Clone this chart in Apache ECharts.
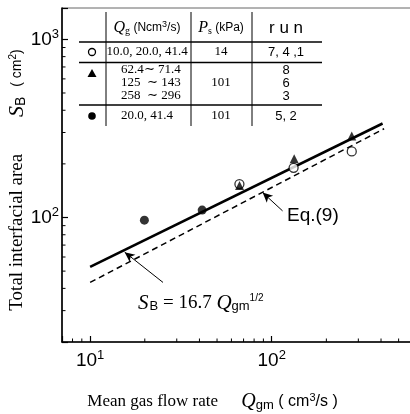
<!DOCTYPE html>
<html><head><meta charset="utf-8">
<script src="https://cdn.jsdelivr.net/npm/echarts@6/dist/echarts.min.js"></script>
<style>html,body{margin:0;padding:0;background:#fff}#c{width:410px;height:414px}</style>
</head><body><div id="c"></div>
<script>
// ---- data ----
const xRange = [7, 600];      // Q_gm axis extent (cm3/s)
const yRange = [20, 1500];    // S_B axis extent (cm2)
const xMinorTicks = [8, 9, 20, 30, 40, 50, 60, 70, 80, 90, 200, 300, 400, 500];
const yMinorTicks = [30, 40, 50, 60, 70, 80, 90, 200, 300, 400, 500, 600, 700, 800, 900];

// open circles: Ps = 14 kPa (runs 7,4,1)
const openQ = [66.4, 132, 276];
const openS = [154, 190, 235];
// triangles: Ps = 101 kPa (runs 8,6,3)
const triQ = [66.5, 133, 276];
const triS = [151, 214, 287];
// filled circles: Ps = 101 kPa (runs 5,2)
const dotQ = [19.9, 41.4];
const dotS = [96.6, 110];
// S_B = 16.7 Qgm^(1/2)  (solid line end points)
const fitQ = [10, 408];
const fitS = [52.8, 337];
// Eq.(9) (dashed line end points)
const eqQ = [10, 416];
const eqS = [43.2, 315];

// legend table texts
const qgTexts = ['10.0, 20.0, 41.4', '62.4\u223C 71.4', '125  \u223C 143', '258  \u223C 296', '20.0, 41.4'];
const psTexts = ['14', '101', '101'];
const runTexts = ['7, 4 ,1', '8', '6', '3', '5, 2'];

// ---- build ----
const SERIF = 'Liberation Serif';
const SANS = 'Liberation Sans';
const zip = (a, b) => a.map((v, i) => [v, b[i]]);

function powLabel(v) {
  const e = Math.log10(v);
  const r = Math.round(e);
  if (Math.abs(e - r) < 1e-6) return '{b|10}{s|' + r + '}';
  return '';
}
const tickRich = {
  b: {fontSize: 19, fontFamily: SANS, color: '#000'},
  s: {fontSize: 13, fontFamily: SANS, color: '#000', padding: [0, 0, 10, 0]}
};

const chart = echarts.init(document.getElementById('c'), null, {renderer: 'canvas'});

const txt = (x, y, text, extra) => ({
  type: 'text', x: x, y: y, silent: true,
  style: Object.assign({text: text, fill: '#000', align: 'center', verticalAlign: 'middle',
    font: '13px ' + SERIF}, extra || {})
});
const hline = (x1, x2, y, w) => ({type: 'line', silent: true, shape: {x1: x1, y1: y, x2: x2, y2: y}, style: {stroke: '#000', lineWidth: w || 1.3}});
const vline = (x, y1, y2, w) => ({type: 'line', silent: true, shape: {x1: x, y1: y1, x2: x, y2: y2}, style: {stroke: '#000', lineWidth: w || 1}});

const graphics = [
  hline(79, 322, 42, 1.6), hline(79, 322, 62.5, 1.3), hline(79, 322, 105, 1.3),
  vline(106, 12, 126), vline(191, 12, 126), vline(252, 12, 126),
  // header
  txt(147, 28, '{q|Q}{qs|g}{u| (Ncm}{us|3}{u|/s)}', {rich: {
    q: {font: 'italic 16px ' + SERIF}, qs: {font: '10px ' + SERIF, padding: [6, 0, 0, 0]},
    u: {font: '12px ' + SANS}, us: {font: '9px ' + SANS, padding: [0, 0, 6, 0]}}}),
  txt(221, 28, '{q|P}{qs|s}{u| (kPa)}', {rich: {
    q: {font: 'italic 16px ' + SERIF}, qs: {font: '10px ' + SERIF, padding: [6, 0, 0, 0]},
    u: {font: '12px ' + SANS}}}),
  txt(286, 28, 'r u n', {font: '17px ' + SANS}),
  // row 1
  txt(147, 52, qgTexts[0]), txt(221, 52, psTexts[0]), txt(286, 52, runTexts[0], {font: '13px ' + SANS}),
  // row 2
  txt(121, 70, qgTexts[1], {align: 'left'}), txt(121, 83, qgTexts[2], {align: 'left'}), txt(121, 96, qgTexts[3], {align: 'left'}),
  txt(221, 83, psTexts[1]),
  txt(286, 70, runTexts[1], {font: '13px ' + SANS}), txt(286, 83, runTexts[2], {font: '13px ' + SANS}), txt(286, 96, runTexts[3], {font: '13px ' + SANS}),
  // row 3
  txt(147, 116, qgTexts[4]), txt(221, 116, psTexts[2]), txt(286, 116, runTexts[4], {font: '13px ' + SANS}),
  // markers
  {type: 'circle', silent: true, shape: {cx: 92, cy: 52, r: 3.5}, style: {fill: '#fff', stroke: '#000', lineWidth: 1.3}},
  {type: 'polygon', silent: true, shape: {points: [[92, 69], [96.5, 77], [87.5, 77]]}, style: {fill: '#000'}},
  {type: 'circle', silent: true, shape: {cx: 92, cy: 116, r: 3.8}, style: {fill: '#000'}},
  // annotations
  txt(287, 216, 'Eq.(9)', {align: 'left', font: '19px ' + SANS}),
  txt(138, 303, '{S|S}{Bs|B}{t| = 16.7 }{Q|Q}{g|gm}{h|1/2}', {align: 'left', rich: {
    S: {font: 'italic 21px ' + SERIF}, Bs: {font: '13px ' + SANS, padding: [7, 0, 0, 1]},
    t: {font: '19px ' + SERIF}, Q: {font: 'italic 21px ' + SERIF},
    g: {font: '13px ' + SANS, padding: [7, 0, 0, 0]}, h: {font: '10px ' + SANS, padding: [0, 0, 10, 0]}}})
];

const minorX = xMinorTicks.map(v => [v, yRange[0]]);
const minorY = yMinorTicks.map(v => [xRange[0], v]);

const option = {
  animation: false,
  backgroundColor: '#fff',
  grid: {left: 62, top: 8, right: -3, bottom: 72, show: true, borderColor: '#666', borderWidth: 1,
    containLabel: false, outerBoundsMode: 'none'},
  xAxis: {
    type: 'log', logBase: 10, min: xRange[0], max: xRange[1],
    axisLine: {lineStyle: {color: '#000', width: 1.6}},
    axisTick: {inside: true, length: 6, lineStyle: {color: '#000', width: 1.2}},
    splitLine: {show: false},
    axisLabel: {formatter: powLabel, rich: tickRich, margin: 7, showMinLabel: true, showMaxLabel: true},
    name: '{m|Mean gas flow rate}{sp|       }{q|Q}{qs|gm}{u| ( cm}{us|3}{u|/s )}',
    nameLocation: 'middle', nameGap: 49,
    nameTextStyle: {padding: [0, 50, 0, 0], rich: {
      m: {fontFamily: SERIF, fontSize: 17, color: '#000'},
      sp: {fontSize: 12},
      q: {fontFamily: SERIF, fontStyle: 'italic', fontSize: 20, color: '#000'},
      qs: {fontFamily: SANS, fontSize: 13, color: '#000', padding: [8, 0, 0, 0]},
      u: {fontFamily: SANS, fontSize: 16, color: '#000'},
      us: {fontFamily: SANS, fontSize: 11, color: '#000', padding: [0, 0, 8, 0]}
    }}
  },
  yAxis: {
    type: 'log', logBase: 10, min: yRange[0], max: yRange[1],
    axisLine: {lineStyle: {color: '#000', width: 1.6}},
    axisTick: {inside: true, length: 6, lineStyle: {color: '#000', width: 1.2}},
    splitLine: {show: false},
    axisLabel: {formatter: powLabel, rich: tickRich, margin: 3},
    name: '{m|Total interfacial area}{sp|           }{q|S}{qs|B}{sp|   }{u|( cm}{us|2}{u|)}',
    nameLocation: 'middle', nameGap: 34, nameRotate: 90, nameMoveOverlap: false,
    nameTextStyle: {padding: [0, 10, 0, 0], rich: {
      m: {fontFamily: SERIF, fontSize: 19, color: '#000'},
      sp: {fontSize: 12},
      q: {fontFamily: SERIF, fontStyle: 'italic', fontSize: 22, color: '#000'},
      qs: {fontFamily: SANS, fontSize: 14, color: '#000', padding: [8, 0, 0, 0]},
      u: {fontFamily: SANS, fontSize: 14, color: '#000'},
      us: {fontFamily: SANS, fontSize: 10, color: '#000', padding: [0, 0, 8, 0]}
    }}
  },
  graphic: graphics,
  series: [
    {name: 'S_B = 16.7 Qgm^1/2', type: 'line', data: zip(fitQ, fitS), symbol: 'none',
      lineStyle: {color: '#000', width: 2.6}, z: 3,
      markLine: {silent: true, symbol: ['none', 'arrow'], symbolSize: [7, 10], label: {show: false},
        lineStyle: {color: '#000', width: 1, type: 'solid'},
        data: [[{coord: [25.2, 43.2]}, {coord: [15.5, 63.9]}]]}},
    {name: 'Eq.(9)', type: 'line', data: zip(eqQ, eqS), symbol: 'none',
      lineStyle: {color: '#000', width: 1.5, type: [6, 4]}, z: 3,
      markLine: {silent: true, symbol: ['none', 'arrow'], symbolSize: [7, 10], label: {show: false},
        lineStyle: {color: '#000', width: 1, type: 'solid'},
        data: [[{coord: [114.8, 108.9]}, {coord: [89.1, 138.1]}]]}},
    {name: 'Ps 14 kPa', type: 'scatter', data: zip(openQ, openS), symbol: 'circle', symbolSize: 9,
      itemStyle: {color: '#fff', borderColor: '#000', borderWidth: 1.3}, z: 4},
    {name: 'Ps 101 kPa (tri)', type: 'scatter', data: zip(triQ, triS), symbol: 'triangle', symbolSize: 9,
      itemStyle: {color: '#000'}, z: 5},
    {name: 'Ps 101 kPa (dot)', type: 'scatter', data: zip(dotQ, dotS), symbol: 'circle', symbolSize: 9,
      itemStyle: {color: '#000'}, z: 5},
    {name: 'xMinor', type: 'custom', data: minorX, silent: true, clip: false,
      renderItem: (p, api) => { const c = api.coord([api.value(0), api.value(1)]);
        return {type: 'line', shape: {x1: c[0], y1: c[1], x2: c[0], y2: c[1] - 3.5}, style: {stroke: '#000', lineWidth: 1}}; }},
    {name: 'yMinor', type: 'custom', data: minorY, silent: true, clip: false,
      renderItem: (p, api) => { const c = api.coord([api.value(0), api.value(1)]);
        return {type: 'line', shape: {x1: c[0], y1: c[1], x2: c[0] + 3.5, y2: c[1]}, style: {stroke: '#000', lineWidth: 1}}; }}
  ]
};
chart.setOption(option);
</script></body></html>
